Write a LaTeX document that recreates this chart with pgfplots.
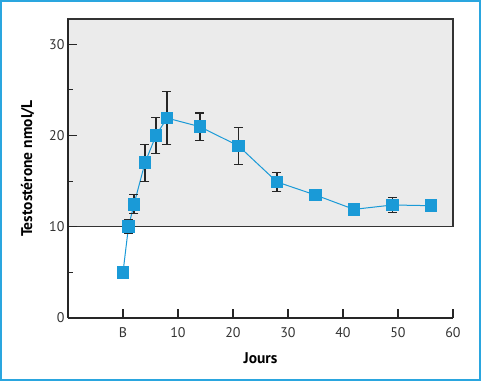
\documentclass[border=0pt]{standalone}
\usepackage{pgfplots}
\pgfplotsset{compat=1.18}
\usepackage{fontspec}
\setmainfont{PT Sans}
\definecolor{ptblue}{HTML}{1A9AD7}
\definecolor{frameblue}{HTML}{2AA6DF}
\definecolor{boxgray}{HTML}{EBEBEB}
\begin{document}
\begin{tikzpicture}
\begin{axis}[
  scale only axis,
  width=385pt, height=299pt,
  xmin=-10, xmax=60, ymin=0, ymax=32.75,
  axis lines*=left,
  axis on top,
  axis line style={line width=1.2pt, black!85},
  clip=false,
  xtick={0,10,20,30,40,50,60},
  xticklabels={B,10,20,30,40,50,60},
  ytick={0,10,20,30},
  minor ytick={5,15,25},
  tick align=inside,
  major tick length=9pt,
  minor tick length=5pt,
  tick style={line width=1.1pt, black!85},
  ticklabel style={font=\fontsize{14}{16}\selectfont, black!80},
  /pgf/number format/assume math mode=true,
  xticklabel style={yshift=-6pt},
  xlabel={\textbf{Jours}},
  ylabel={\textbf{Testostérone nmol/L}},
  label style={font=\fontsize{15.5}{18}\selectfont},
  xlabel style={yshift=-8pt},
  ylabel style={yshift=8pt},
]
\draw[fill=boxgray, draw=black!80, line width=1.3pt] (axis cs:-10,10) rectangle (axis cs:60,32.75);
\addplot[color=ptblue, line width=1pt, mark=square*, mark size=5.8pt, mark options={fill=ptblue, draw=ptblue}]
  table {
x y
0 5.0
1 10.0
2 12.45
4 17.0
6 20.0
8 21.9
14 20.95
21 18.85
28 14.9
35 13.47
42 11.9
49 12.38
56 12.3
};
\addplot[draw=none, mark=none, forget plot,
  error bars/.cd, y dir=both, y explicit,
  error bar style={line width=1.1pt, black!85},
  error mark options={rotate=90, mark size=4.5pt, line width=1.1pt, black!85}]
  table[y error=e] {
x y e
1 10.0 0.75
2 12.45 1.05
4 17.0 2.0
6 20.0 2.0
8 21.9 2.9
14 20.95 1.5
21 18.85 2.0
28 14.9 1.05
49 12.38 0.8
};
\end{axis}
\draw[frameblue, line width=2pt, use as bounding box] (-67pt,-62pt) rectangle (412pt,317pt);
\end{tikzpicture}
\end{document}
